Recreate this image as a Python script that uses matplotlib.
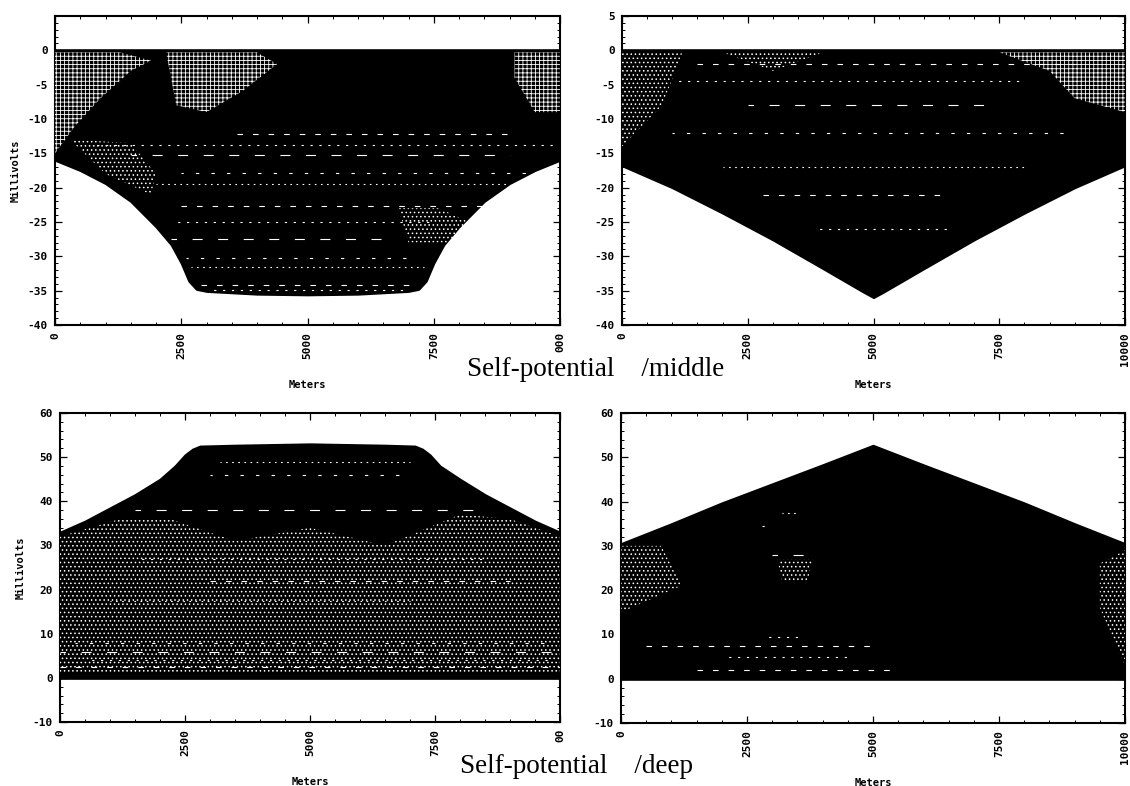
import matplotlib
matplotlib.use("Agg")
import matplotlib.pyplot as plt

plt.rcParams["hatch.linewidth"] = 0.6

# curves (x in meters, y in millivolts)
x_tl = [0, 500, 1000, 1500, 2000, 2300, 2500, 2650, 2800, 3000, 4000, 5000, 6000, 7000, 7200, 7350, 7500, 7700, 8000, 8500, 9000, 9500, 10000]
y_tl = [-16, -17.5, -19.4, -22, -25.7, -28.3, -31, -33.6, -34.8, -35.1, -35.5, -35.6, -35.5, -35.1, -34.8, -33.6, -31, -28.3, -25.7, -22, -19.4, -17.5, -16]

x_tr = [0, 1000, 2000, 3000, 4000, 4800, 5000, 5200, 6000, 7000, 8000, 9000, 10000]
y_tr = [-16.8, -20, -23.7, -27.6, -31.8, -35.2, -36, -35.2, -31.8, -27.6, -23.7, -20, -16.8]

x_bl = [0, 500, 1000, 1500, 2000, 2300, 2500, 2650, 2800, 3500, 5000, 6500, 7100, 7250, 7400, 7600, 8000, 8500, 9000, 9500, 10000]
y_bl = [33, 35.5, 38.5, 41.5, 45, 48, 50.5, 51.8, 52.5, 52.7, 53, 52.7, 52.5, 51.8, 50.5, 48, 45, 41.5, 38.5, 35.5, 33]

x_br = [0, 1000, 2000, 3000, 4000, 5000, 6000, 7000, 8000, 9000, 10000]
y_br = [30.5, 35, 39.7, 44, 48.3, 52.7, 48.3, 44, 39.7, 35, 30.5]

x_ticks = [0, 2500, 5000, 7500, 10000]
y_ticks_tl = [0, -5, -10, -15, -20, -25, -30, -35, -40]
y_ticks_tr = [5, 0, -5, -10, -15, -20, -25, -30, -35, -40]
y_ticks_bot = [60, 50, 40, 30, 20, 10, 0, -10]

# speckled patches of the scan: (hatch, x points, y points)
patches_tl = [
    ("++++", [0, 600, 1300, 1900, 1500, 900, 400, 0], [-0.3, -0.3, -0.3, -1.5, -3, -7, -11, -15]),
    ("++++", [2200, 3100, 4000, 4400, 3700, 3000, 2400], [-0.3, -0.3, -0.3, -2, -6, -9, -8]),
    ("++++", [9100, 10000, 10000, 9500, 9100], [-0.3, -0.3, -9, -9, -4]),
    ("....", [300, 1500, 2000, 1900, 1000], [-13, -13.5, -18, -21, -18]),
    ("....", [6800, 7600, 8200, 7900, 7000], [-23, -23, -25, -28, -28]),
]
patches_tr = [
    ("++++", [7500, 9000, 10000, 10000, 9000, 8500], [-0.3, -0.3, -0.3, -9, -7, -3]),
    ("....", [0, 1200, 800, 0], [-0.3, -0.3, -8, -14]),
    ("....", [2000, 4000, 3000], [-0.3, -0.3, -3]),
]
patches_bl = [
    ("....", [0, 1200, 2200, 3500, 5000, 6500, 8000, 9000, 10000, 10000, 0],
     [32, 36, 36, 31, 34, 30, 37, 36, 32, 1, 1]),
]
patches_br = [
    ("....", [0, 800, 1200, 600, 0], [30, 30, 21, 18, 15]),
    ("....", [9500, 10000, 10000, 9500], [26, 29, 3, 16]),
    ("....", [3100, 3800, 3700, 3200], [27, 27, 22, 22]),
]

# rows of white dashes: (y, x start, x end)
rows_tl = [(-12.2, 3600, 9000), (-13.8, 700, 9900), (-15.2, 1500, 9000), (-17.9, 2500, 9500),
           (-19.4, 2000, 9000), (-22.7, 2500, 8500), (-25, 2300, 7500), (-27.5, 2300, 6500),
           (-30.3, 2600, 7000), (-31.6, 2700, 7300), (-34.2, 2900, 7100), (-34.9, 3000, 7000)]
rows_tr = [(-2, 1500, 9000), (-4.5, 1000, 8000), (-8, 2500, 7500), (-12, 1000, 9000),
           (-17, 2000, 8000), (-21, 2800, 6500), (-26, 3800, 6500)]
rows_bl = [(2.5, 0, 10000), (4, 500, 9800), (5.8, 0, 10000), (8, 300, 9700), (17.5, 1000, 7000),
           (22, 3000, 9000), (27, 1500, 8500), (38, 1500, 8500), (46, 3000, 7000), (49, 3200, 7000)]
rows_br = [(7.5, 500, 5000), (9.5, 2800, 3600), (28, 3000, 3800), (34.5, 2800, 3000), (37.5, 3200, 3500),
           (2, 1500, 5500), (5, 2000, 4500)]

dash_styles = [(0, (5, 9)), (2, (2, 6)), (4, (9, 14)), (1, (3, 11)), (6, (1.5, 4))]

MONO = "DejaVu Sans Mono"


def to_rect(l, t, r, b):
    return [l / 1130, 1 - b / 786, (r - l) / 1130, (b - t) / 786]


def panel(fig, rect, xs, ys, ylim, yticks, yminor, xlast, patches, rows, ylabel=False):
    ax = fig.add_axes(to_rect(*rect))
    ax.fill_between(xs, ys, 0, color="black", lw=1.5, zorder=2)
    for hatch, px, py in patches:
        ax.fill(px, py, facecolor="none", edgecolor="white", hatch=hatch, lw=0, zorder=3)
    for i, (y, x0, x1) in enumerate(rows):
        ax.plot([x0, x1], [y, y], color="white", lw=0.8, ls=dash_styles[i % len(dash_styles)], zorder=4)
    ax.axhline(0, color="black", lw=1.8, zorder=5)
    ax.set_xlim(0, 10000)
    ax.set_ylim(*ylim)
    ax.set_xticks(x_ticks)
    ax.set_xticklabels(["0", "2500", "5000", "7500", xlast], rotation=90,
                       family=MONO, fontsize=8, fontweight="bold")
    ax.set_xticks(range(0, 10001, 500), minor=True)
    ax.set_yticks(yticks)
    ax.set_yticklabels([str(v) for v in yticks], family=MONO, fontsize=8, fontweight="bold")
    ax.set_yticks(yminor, minor=True)
    ax.tick_params(which="major", direction="in", length=5, width=0.9, top=True, right=True, pad=5)
    ax.tick_params(which="minor", direction="in", length=2.5, width=0.7, top=True, right=True)
    for s in ax.spines.values():
        s.set_linewidth(1.5)
    ax.set_xlabel("Meters", family=MONO, fontsize=7.5, fontweight="bold")
    ax.xaxis.set_label_coords(0.5, -0.178)
    if ylabel:
        ax.set_ylabel("Millivolts", family=MONO, fontsize=7.5, fontweight="bold")
        ax.yaxis.set_label_coords(-0.068, 0.5)
    return ax


fig = plt.figure(figsize=(11.3, 7.86), dpi=100)

minor_top = list(range(-40, 6))
minor_bot = list(range(-10, 61, 2))

panel(fig, (55, 16, 560, 325), x_tl, y_tl, (-40, 5), y_ticks_tl, minor_top, "000", patches_tl, rows_tl, ylabel=True)
panel(fig, (622, 16, 1125, 325), x_tr, y_tr, (-40, 5), y_ticks_tr, minor_top, "10000", patches_tr, rows_tr)
panel(fig, (60, 413, 560, 722), x_bl, y_bl, (-10, 60), y_ticks_bot, minor_bot, "00", patches_bl, rows_bl, ylabel=True)
panel(fig, (621, 413, 1125, 723), x_br, y_br, (-10, 60), y_ticks_bot, minor_bot, "10000", patches_br, rows_br)

fig.text(467 / 1130, 1 - 376 / 786, "Self-potential    /middle", family="Liberation Serif", fontsize=19.5)
fig.text(460 / 1130, 1 - 773 / 786, "Self-potential    /deep", family="Liberation Serif", fontsize=19.5)

fig.savefig("out.png", dpi=100)
